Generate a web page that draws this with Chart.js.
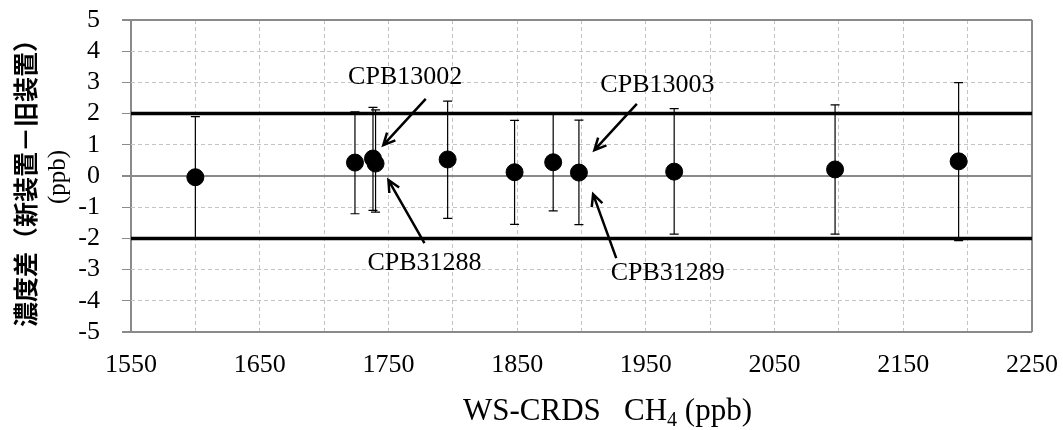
<!DOCTYPE html>
<html>
<head>
<meta charset="utf-8">
<script src="https://cdn.jsdelivr.net/npm/chart.js@4.4.1/dist/chart.umd.min.js"></script>
<style>
  body { margin: 0; background: #fff; }
  #wrap { width: 1063px; height: 430px; }
</style>
</head>
<body>
<div id="wrap"><canvas id="chart"></canvas></div>
<script>
// WS-CRDS CH4 (ppb) vs difference new - old (ppb)
const xValues = [1600, 1724, 1738, 1740, 1796, 1848, 1878, 1898, 1972, 2097, 2193];
const diffValues = [-0.04, 0.43, 0.56, 0.40, 0.53, 0.12, 0.44, 0.11, 0.14, 0.21, 0.47];
const errTop = [1.9, 2.06, 2.2, 2.12, 2.4, 1.78, 2.0, 1.79, 2.16, 2.28, 2.99];
const errBottom = [-2.0, -1.21, -1.1, -1.16, -1.36, -1.55, -1.12, -1.56, -1.86, -1.86, -2.07];
const limitValues = [2, -2];
const xRange = [1550, 2250];
const yRange = [-5, 5];

// labels + arrows, in data units: [text, textX, textY, fromX, fromY, toX, toY]
const notes = [
    ["CPB13002", 1763, 3.17, 1779, 2.47, 1746, 0.99],
    ["CPB31288", 1778, -2.79, 1778, -2.15, 1750, -0.13],
    ["CPB13003", 1959, 2.92, 1943, 2.31, 1910, 0.83],
    ["CPB31289", 1967, -3.11, 1927, -2.63, 1909, -0.58]
];

const serif = "'Liberation Serif', 'Times New Roman', serif";

const points = xValues.map((x, i) => ({ x: x, y: diffValues[i] }));

const limitSets = limitValues.map(v => ({
    type: "line",
    data: [{ x: xRange[0], y: v }, { x: xRange[1], y: v }],
    borderColor: "#000",
    borderWidth: 3.5,
    pointRadius: 0,
    order: 2
}));

const errorBars = {
    id: "errorBars",
    beforeDatasetsDraw(chart) {
        const { ctx, scales: { x, y } } = chart;
        ctx.save();
        ctx.strokeStyle = "#000";
        ctx.lineWidth = 1.2;
        xValues.forEach((v, i) => {
            const px = x.getPixelForValue(v);
            const top = y.getPixelForValue(errTop[i]);
            const bot = y.getPixelForValue(errBottom[i]);
            ctx.beginPath();
            ctx.moveTo(px, top); ctx.lineTo(px, bot);
            ctx.moveTo(px - 4.5, top); ctx.lineTo(px + 4.5, top);
            ctx.moveTo(px - 4.5, bot); ctx.lineTo(px + 4.5, bot);
            ctx.stroke();
        });
        ctx.restore();
    }
};

const extras = {
    id: "extras",
    afterDraw(chart) {
        const { ctx, scales: { x, y }, chartArea } = chart;
        ctx.save();

        // notes with arrows
        ctx.font = "26px " + serif;
        ctx.fillStyle = "#000";
        ctx.textAlign = "center";
        ctx.textBaseline = "middle";
        notes.forEach(n => {
            ctx.fillText(n[0], x.getPixelForValue(n[1]), y.getPixelForValue(n[2]));
            const x1 = x.getPixelForValue(n[3]), y1 = y.getPixelForValue(n[4]);
            const x2 = x.getPixelForValue(n[5]), y2 = y.getPixelForValue(n[6]);
            const a = Math.atan2(y2 - y1, x2 - x1);
            ctx.strokeStyle = "#000";
            ctx.lineWidth = 2.5;
            ctx.beginPath();
            ctx.moveTo(x1, y1); ctx.lineTo(x2, y2);
            ctx.moveTo(x2 - 13 * Math.cos(a - 0.45), y2 - 13 * Math.sin(a - 0.45));
            ctx.lineTo(x2, y2);
            ctx.lineTo(x2 - 13 * Math.cos(a + 0.45), y2 - 13 * Math.sin(a + 0.45));
            ctx.stroke();
        });

        // x title with subscript
        const cx = (chartArea.left + chartArea.right) / 2 + 26;
        const parts = [["WS-CRDS   CH", 31, 0], ["4", 20, 6], [" (ppb)", 31, 0]];
        let total = 0;
        parts.forEach(p => { ctx.font = p[1] + "px " + serif; total += ctx.measureText(p[0]).width; });
        let px = cx - total / 2;
        ctx.textAlign = "left";
        ctx.textBaseline = "alphabetic";
        parts.forEach(p => {
            ctx.font = p[1] + "px " + serif;
            ctx.fillText(p[0], px, 420 + p[2]);
            px += ctx.measureText(p[0]).width;
        });

        // y title, two lines rotated
        const cy = (chartArea.top + chartArea.bottom) / 2 + 1;
        ctx.translate(0, cy);
        ctx.rotate(-Math.PI / 2);
        ctx.textAlign = "center";
        ctx.textBaseline = "middle";
        ctx.font = "bold 25px 'Noto Sans CJK JP', sans-serif";
        ctx.fillText("濃度差（新装置－旧装置）", 0, 25);
        ctx.font = "25px " + serif;
        ctx.fillText("(ppb)", 0, 58);
        ctx.restore();
    }
};

new Chart(document.getElementById("chart"), {
    type: "scatter",
    data: {
        datasets: [{
            label: "diff",
            data: points,
            backgroundColor: "#000",
            borderColor: "#000",
            pointRadius: 8.5,
            pointHoverRadius: 8.5,
            order: 1
        }, ...limitSets]
    },
    options: {
        responsive: true,
        maintainAspectRatio: false,
        animation: false,
        layout: { padding: { top: 20, right: 31, left: 0, bottom: 0 } },
        plugins: {
            legend: { display: false },
            tooltip: { enabled: false }
        },
        scales: {
            x: {
                type: "linear",
                min: xRange[0],
                max: xRange[1],
                afterFit: s => {
                    s.height = 98;
                    s.paddingLeft = 0;
                    s.paddingRight = 0;
                },
                ticks: {
                    stepSize: 50,
                    autoSkip: false,
                    maxRotation: 0,
                    padding: 18,
                    color: "#000",
                    font: { family: serif, size: 26 },
                    callback: v => ((v - 1550) % 100 === 0 ? String(v) : "")
                },
                grid: {
                    drawTicks: false,
                    color: c => (c.tick && (c.tick.value === 1550 || c.tick.value === 2250) ? "#8a8a8a" : "#c4c4c4"),
                    lineWidth: c => (c.tick && (c.tick.value === 1550 || c.tick.value === 2250) ? 2 : 1)
                },
                border: {
                    display: false,
                    dash: c => (c.tick && c.tick.value !== 1550 && c.tick.value !== 2250 ? [4, 3] : [])
                }
            },
            y: {
                min: yRange[0],
                max: yRange[1],
                afterFit: s => {
                    s.width = 131;
                    s.paddingTop = 0;
                    s.paddingBottom = 0;
                },
                ticks: {
                    stepSize: 1,
                    autoSkip: false,
                    padding: 22,
                    color: "#000",
                    font: { family: serif, size: 26 }
                },
                grid: {
                    tickLength: 9,
                    tickColor: "#8a8a8a",
                    tickBorderDash: [],
                    color: c => (c.tick && [0, 5, -5].includes(c.tick.value) ? "#8a8a8a" : "#c4c4c4"),
                    lineWidth: c => (c.tick && [0, 5, -5].includes(c.tick.value) ? 2 : 1)
                },
                border: {
                    display: false,
                    dash: c => (c.tick && ![0, 5, -5].includes(c.tick.value) ? [4, 3] : [])
                }
            }
        }
    },
    plugins: [errorBars, extras]
});
</script>
</body>
</html>
